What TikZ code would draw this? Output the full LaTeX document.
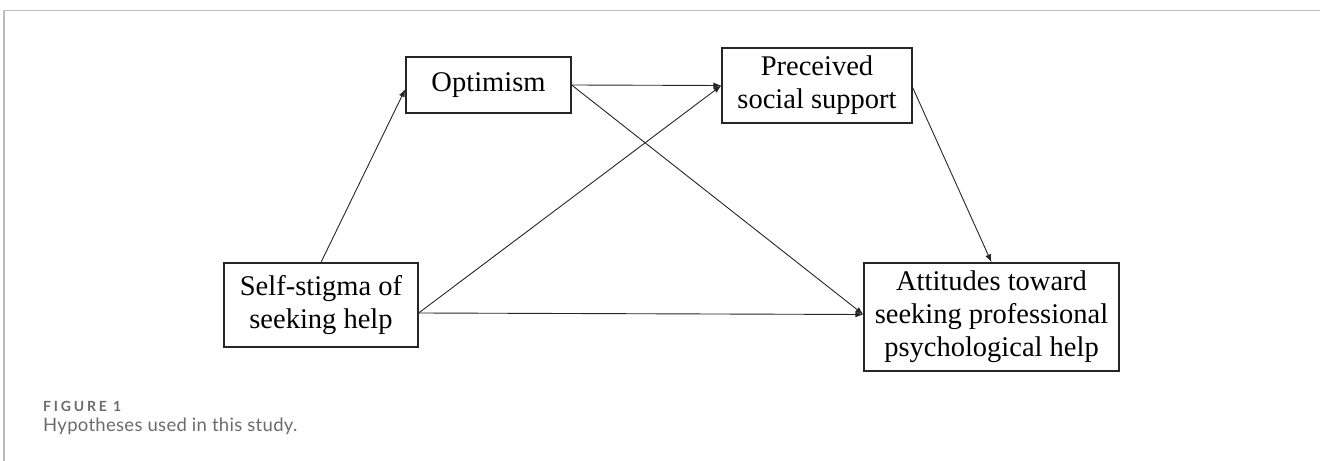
\documentclass[tikz,border=0pt]{standalone}
\usepackage{fontspec}
\setmainfont{Liberation Serif}
\newfontfamily\capfont[LetterSpace=1.6]{Lato}
\newfontfamily\capbold[LetterSpace=20]{Lato Bold}
\usetikzlibrary{arrows.meta}
\definecolor{frame}{HTML}{BDBDBD}
\definecolor{capgray}{HTML}{6B6B6B}
\begin{document}
\begin{tikzpicture}[x=1bp,y=-1bp,
  box/.style={draw=black!85,line width=1.3bp,inner sep=0pt,align=center,
    font=\fontsize{28.5bp}{33bp}\selectfont},
  link/.style={draw=black!85,line width=0.9bp,-{Latex[length=8bp,width=6bp]}}]
\useasboundingbox (0,0) rectangle (1320,461);
\draw[frame,line width=1.5bp] (4,461) -- (4,10.5) -- (1320,10.5);
\node[box,minimum width=165bp,minimum height=56bp] (opt) at (488.5,85) {Optimism};
\node[box,minimum width=190bp,minimum height=75bp] (pss) at (817,85.5) {Preceived\\social support};
\node[box,minimum width=194bp,minimum height=84bp] (ssh) at (321,305) {Self-stigma of\\seeking help};
\node[box,minimum width=255bp,minimum height=108bp] (att) at (991.5,317) {Attitudes toward\\seeking professional\\psychological help};
\draw[link] (ssh.north) -- ([yshift=-4bp]opt.west);
\draw[link] (opt.east) -- (pss.west);
\draw[link] (opt.east) -- ([yshift=2.5bp]att.west);
\draw[link] ([yshift=-8bp]ssh.east) -- (pss.west);
\draw[link] ([yshift=-8bp]ssh.east) -- ([yshift=2.5bp]att.west);
\draw[link] ([yshift=-2bp]pss.east) -- (att.north);
\node[anchor=base west,inner sep=0pt,text=capgray,font=\capbold\fontsize{14bp}{16bp}\selectfont] (fig) at (43,411.7) {FIGURE 1};
\node[anchor=base west,inner sep=0pt,text=capgray,font=\capfont\fontsize{18.5bp}{21bp}\selectfont] (cap) at (43,431) {Hypotheses used in this study.};
\end{tikzpicture}
\end{document}
